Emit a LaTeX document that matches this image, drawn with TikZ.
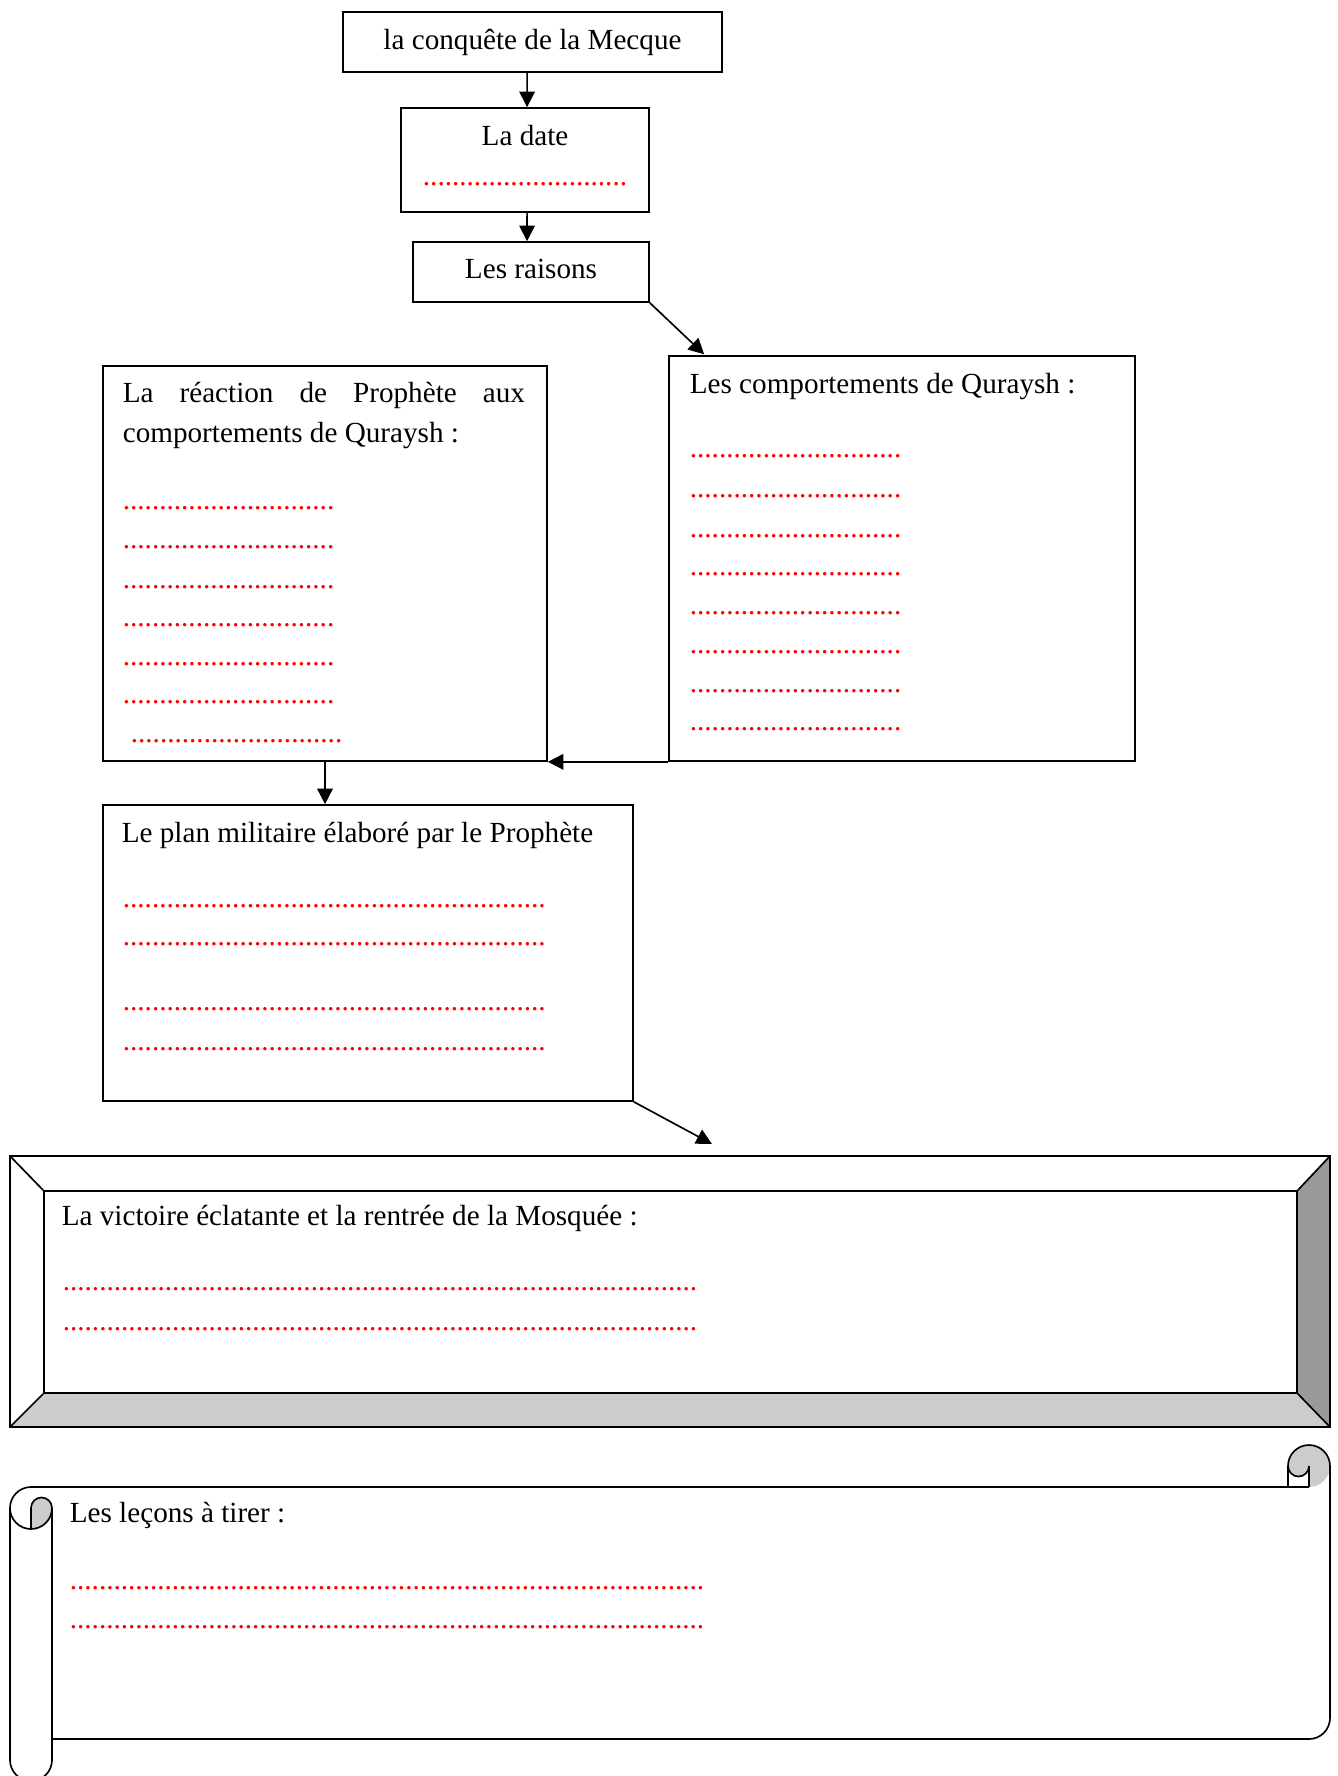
\documentclass[tikz,border=0pt]{standalone}
\usepackage{fontspec}
\setmainfont{Liberation Serif}
\usetikzlibrary{arrows.meta,fit,calc}
\newcommand\rdots[1]{\textcolor{red}{\foreach\i in {1,...,#1}{.}}}
\definecolor{bevlight}{HTML}{CCCCCC}
\definecolor{bevdark}{HTML}{999999}
\begin{document}
\begin{tikzpicture}[x=0.48pt,y=-0.48pt, line width=0.8pt,
  box/.style={draw, inner sep=0pt},
  txt/.style={anchor=base west, inner sep=0pt, font=\fontsize{14}{17}\selectfont},
  ctxt/.style={anchor=base, inner sep=0pt, font=\fontsize{14}{17}\selectfont},
  arr/.style={-{Triangle[length=7.5pt,width=7.5pt]}},
  curl/.style={fill=bevlight}]
\useasboundingbox (0,0) rectangle (1338,1776);

% --- top chain ---
\node[box, fit={(343,12) (722,72)}] (conq) {};
\node[ctxt] (conqT) at (532.5,49) {la conquête de la Mecque};
\node[box, fit={(401,108) (649,212)}] (date) {};
\node[ctxt] (dateT) at (525,145) {La date};
\node[ctxt] (dateD) at (525,185) {\rdots{28}};
\node[box, fit={(413,242) (649,302)}] (rais) {};
\node[ctxt] (raisT) at (531,278) {Les raisons};

% --- right box ---
\node[box, fit={(669,356) (1135,761)}] (comp) {};
\node[txt] (compT) at (689,393) {Les comportements de Quraysh :};
\foreach \y [count=\k] in {457,497,537,575,614,653,692,730}
  \node[txt] (compD\k) at (689,\y) {\rdots{29}};

% --- left box ---
\node[box, fit={(103,366) (547,761)}] (reac) {};
\node[txt] (reacT1) at (122,402) {\makebox[193pt][s]{La réaction de Prophète aux}};
\node[txt] (reacT2) at (122,442) {comportements de Quraysh :};
\foreach \y [count=\k] in {509,548,588,626,665,703}
  \node[txt] (reacD\k) at (122,\y) {\rdots{29}};
\node[txt] (reacD7) at (130,742) {\rdots{29}};

% --- plan box ---
\node[box, fit={(103,805) (633,1101)}] (plan) {};
\node[txt] (planT) at (121,842) {Le plan militaire élaboré par le Prophète};
\foreach \y [count=\k] in {907,945,1010,1050}
  \node[txt] (planD\k) at (122,\y) {\rdots{58}};

% --- arrows ---
\draw[arr] ([xshift=-2.6pt]conq.south) -- ([xshift=1pt]date.north);
\draw[arr] ([xshift=1pt]date.south) -- ([xshift=-1.9pt]rais.north);
\draw[arr] (rais.south east) -- ([xshift=17.3pt,yshift=0.4pt]comp.north west);
\draw[arr] (comp.south west) -- (reac.south east);
\draw[arr] (reac.south) -- (reac.south |- plan.north);
\coordinate (a6) at (712,1144);
\draw[arr] (plan.south east) -- (a6);

% --- bevel frame ---
\fill[bevlight] (10,1427) -- (44,1393) -- (1297,1393) -- (1330,1427) -- cycle;
\fill[bevdark] (1330,1156) -- (1297,1191) -- (1297,1393) -- (1330,1427) -- cycle;
\draw (10,1156) rectangle (1330,1427);
\node[box, fit={(44,1191) (1297,1393)}] (vict) {};
\draw (10,1156) -- (vict.north west);
\draw (10,1427) -- (vict.south west);
\draw (1330,1156) -- (vict.north east);
\draw (1330,1427) -- (vict.south east);
\node[txt] (victT) at (61,1225) {La victoire éclatante et la rentrée de la Mosquée :};
\node[txt] (victD1) at (62,1290) {\rdots{87}};
\node[txt] (victD2) at (62,1330) {\rdots{87}};

% --- scroll ---
\fill[curl] (1288,1466) arc[start angle=180, end angle=360, radius=21]
  arc[start angle=0, end angle=90, radius=21] -- (1309,1466)
  arc[start angle=0, end angle=180, radius=10.5] -- cycle;
\fill[curl] (31,1508) arc[start angle=180, end angle=360, radius=10.5]
  arc[start angle=0, end angle=90, radius=21] -- cycle;
\draw (31,1487) -- (1309,1487);
\draw (1288,1487) -- (1288,1466) arc[start angle=180, end angle=360, radius=21]
  -- (1330,1718) arc[start angle=0, end angle=90, radius=21] -- (52,1739);
\draw (1309,1487) -- (1309,1466) arc[start angle=0, end angle=180, radius=10.5];
\draw (31,1487) arc[start angle=270, end angle=180, radius=21]
  -- (10,1760) arc[start angle=180, end angle=0, radius=21] -- (52,1508);
\draw (10,1508) arc[start angle=180, end angle=0, radius=21];
\draw (31,1529) -- (31,1508) arc[start angle=180, end angle=360, radius=10.5];
\node[txt] (lecT) at (69,1522) {Les leçons à tirer :};
\node[txt] (lecD1) at (69,1589) {\rdots{87}};
\node[txt] (lecD2) at (69,1628) {\rdots{87}};
\end{tikzpicture}
\end{document}
